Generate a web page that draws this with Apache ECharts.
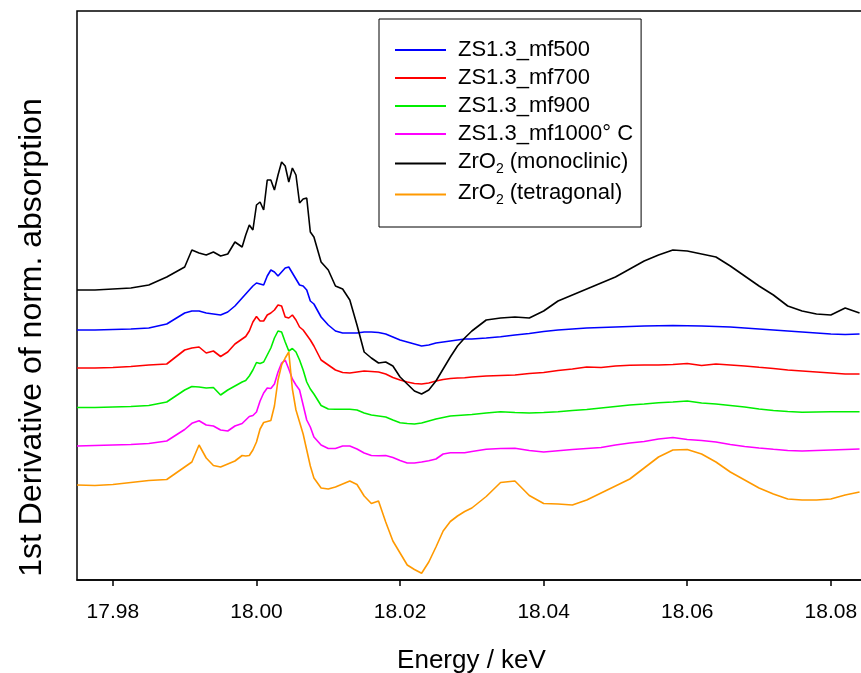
<!DOCTYPE html>
<html>
<head>
<meta charset="utf-8">
<script src="https://cdn.jsdelivr.net/npm/echarts@6/dist/echarts.min.js"></script>
<style>
html,body{margin:0;padding:0;background:#fff;}
#chart{width:861px;height:673px;}
</style>
</head>
<body>
<div id="chart"></div>
<script>
// Energy grid (keV)
const energy = [17.975,17.9775,17.98,17.9825,17.985,17.9875,
17.990,17.991,17.992,17.993,17.994,17.995,17.996,17.997,
17.998,17.9985,17.999,17.9995,18.000,18.0005,18.001,18.0015,18.002,18.0025,18.003,18.0035,18.004,18.0045,18.005,18.0055,18.006,18.0065,18.007,18.0075,
18.008,18.009,18.010,18.011,18.012,18.013,18.014,18.015,18.016,18.017,18.018,18.019,18.020,18.021,18.022,18.023,18.024,18.025,18.026,18.027,18.028,18.029,
18.030,18.032,18.034,18.036,18.038,18.040,18.042,18.044,18.046,18.048,18.050,18.052,18.054,18.056,18.058,18.060,18.062,18.064,18.066,18.068,18.070,18.072,18.074,18.076,18.078,18.080,18.082,18.084];

// Series names
const names = ['ZS1.3_mf500','ZS1.3_mf700','ZS1.3_mf900','ZS1.3_mf1000° C','ZrO2 (monoclinic)','ZrO2 (tetragonal)'];
const colors = ['#0000ff','#ff0000','#00ee00','#ff00ff','#000000','#ff9900'];

// 1st derivative (offset, arbitrary units)
const mf500 = [2.50,2.50,2.505,2.51,2.52,2.56,2.67,2.69,2.69,2.67,
2.66,2.65,2.68,2.74,2.82,2.86,2.90,2.94,2.97,2.96,
2.95,3.04,3.10,3.08,3.04,3.08,3.12,3.13,3.07,3.01,
2.95,2.94,2.90,2.79,2.76,2.63,2.55,2.49,2.47,2.47,
2.47,2.48,2.48,2.475,2.46,2.43,2.40,2.38,2.36,2.34,
2.35,2.37,2.38,2.39,2.40,2.41,2.41,2.42,2.433,2.45,
2.465,2.485,2.50,2.51,2.52,2.525,2.53,2.535,2.54,2.543,
2.545,2.543,2.54,2.535,2.53,2.52,2.51,2.50,2.49,2.48,
2.47,2.46,2.455,2.46];

const mf700 = [2.12,2.12,2.125,2.135,2.15,2.16,2.30,2.32,2.33,2.27,
2.29,2.235,2.28,2.36,2.41,2.435,2.49,2.58,2.635,2.59,
2.59,2.65,2.67,2.70,2.75,2.74,2.63,2.62,2.65,2.60,
2.53,2.50,2.45,2.40,2.34,2.20,2.15,2.10,2.075,2.07,
2.08,2.09,2.085,2.08,2.06,2.025,2.00,1.98,1.965,1.96,
1.97,1.99,2.005,2.015,2.02,2.023,2.03,2.04,2.045,2.05,
2.065,2.075,2.095,2.11,2.13,2.125,2.14,2.147,2.15,2.15,
2.155,2.165,2.145,2.16,2.15,2.14,2.127,2.115,2.10,2.09,
2.08,2.07,2.06,2.06];

const mf900 = [1.725,1.725,1.73,1.735,1.745,1.78,1.90,1.935,1.93,1.92,
1.925,1.85,1.90,1.94,1.98,1.995,2.04,2.10,2.175,2.165,
2.18,2.25,2.32,2.42,2.49,2.48,2.38,2.29,2.315,2.28,
2.20,2.10,1.98,1.91,1.86,1.745,1.71,1.707,1.707,1.707,
1.70,1.67,1.65,1.64,1.63,1.60,1.573,1.565,1.56,1.57,
1.59,1.61,1.625,1.64,1.645,1.65,1.655,1.67,1.683,1.675,
1.67,1.675,1.683,1.695,1.705,1.72,1.735,1.75,1.76,1.773,
1.78,1.79,1.77,1.76,1.745,1.73,1.71,1.695,1.685,1.677,
1.68,1.683,1.683,1.683];

const mf1000 = [1.34,1.345,1.35,1.355,1.365,1.39,1.505,1.567,1.593,1.55,
1.54,1.50,1.49,1.54,1.565,1.60,1.635,1.645,1.68,1.79,
1.87,1.92,1.915,1.96,2.08,2.17,2.20,2.11,2.01,1.95,
1.90,1.75,1.60,1.53,1.43,1.35,1.315,1.315,1.34,1.34,
1.31,1.27,1.245,1.243,1.245,1.225,1.195,1.17,1.17,1.18,
1.193,1.21,1.26,1.273,1.273,1.273,1.285,1.307,1.315,1.317,
1.295,1.28,1.293,1.305,1.315,1.325,1.35,1.37,1.385,1.41,
1.425,1.405,1.395,1.38,1.355,1.335,1.32,1.307,1.295,1.29,
1.295,1.30,1.305,1.31];

const monoclinic = [2.90,2.90,2.91,2.92,2.95,3.03,3.13,3.30,3.27,3.25,
3.28,3.24,3.26,3.38,3.33,3.45,3.55,3.50,3.75,3.78,
3.70,4.00,4.00,3.90,4.05,4.18,4.14,3.98,4.12,4.05,
3.77,3.81,3.82,3.48,3.43,3.18,3.10,2.94,2.91,2.80,
2.55,2.28,2.22,2.17,2.18,2.14,2.03,1.96,1.89,1.86,
1.90,1.99,2.11,2.23,2.34,2.42,2.49,2.60,2.62,2.63,
2.62,2.69,2.79,2.85,2.91,2.97,3.03,3.11,3.19,3.25,
3.30,3.29,3.26,3.23,3.14,3.04,2.94,2.85,2.74,2.69,
2.66,2.65,2.72,2.67];

const tetragonal = [0.95,0.945,0.955,0.975,0.995,1.005,1.13,1.18,1.35,1.22,
1.145,1.13,1.16,1.19,1.245,1.24,1.245,1.30,1.38,1.51,
1.575,1.585,1.595,1.74,2.00,2.15,2.22,2.28,1.91,1.70,
1.58,1.46,1.30,1.14,1.02,0.92,0.91,0.93,0.96,0.99,
0.955,0.84,0.765,0.79,0.58,0.39,0.27,0.15,0.105,0.067,
0.18,0.33,0.49,0.585,0.64,0.685,0.72,0.835,0.975,0.99,
0.845,0.765,0.76,0.75,0.80,0.87,0.94,1.01,1.12,1.23,
1.30,1.305,1.26,1.18,1.08,1.00,0.92,0.86,0.81,0.80,
0.80,0.81,0.85,0.88];

const tickValues = [17.98, 18.00, 18.02, 18.04, 18.06, 18.08];

const values = [mf500, mf700, mf900, mf1000, monoclinic, tetragonal];
const FONT = '"Liberation Sans", Arial, sans-serif';

const chart = echarts.init(document.getElementById('chart'), null, {renderer: 'canvas'});
const series = names.map((n, i) => ({
  name: n,
  type: 'line',
  symbol: 'none',
  animation: false,
  lineStyle: {color: colors[i], width: 1.6},
  itemStyle: {color: colors[i]},
  data: energy.map((e, k) => [e, values[i][k]])
}));

chart.setOption({
  animation: false,
  backgroundColor: '#fff',
  grid: {show: true, left: 77, right: -5, top: 11, bottom: 93,
         outerBoundsMode: 'none', containLabel: false,
         borderColor: '#000', borderWidth: 1.5, backgroundColor: 'transparent'},
  xAxis: {
    type: 'value', min: 17.975, max: 18.0849,
    name: 'Energy / keV', nameLocation: 'middle', nameGap: 68,
    nameTextStyle: {fontSize: 26, color: '#000', fontFamily: FONT},
    axisLine: {show: true, lineStyle: {color: '#000', width: 1.5}},
    axisTick: {show: true, length: 6, inside: false, customValues: tickValues, lineStyle: {color: '#000', width: 1.5}},
    axisLabel: {show: true, customValues: tickValues, margin: 22, fontSize: 21, color: '#000', fontFamily: FONT,
                formatter: v => v.toFixed(2)},
    splitLine: {show: false}
  },
  yAxis: {
    type: 'value', min: 0, max: 5.69,
    name: '1st Derivative of norm. absorption', nameLocation: 'middle', nameGap: 29,
    nameTextStyle: {fontSize: 32, color: '#000', fontFamily: FONT, padding: [0, 84, 0, 0]},
    axisLine: {show: false}, axisTick: {show: false}, axisLabel: {show: false}, splitLine: {show: false}
  },
  legend: {
    orient: 'vertical', left: 379, top: 19,
    padding: [20, 8, 20, 16],
    icon: 'rect',
    itemWidth: 51, itemHeight: 2, itemGap: 6,
    backgroundColor: '#fff', borderColor: '#000', borderWidth: 1,
    data: names,
    formatter: function (name) {
      if (name.indexOf('ZrO2') === 0) {
        return '{a|ZrO}{s|2}{n|' + name.slice(4) + '}';
      }
      return '{a|' + name + '}';
    },
    textStyle: {
      fontSize: 22, color: '#000', fontFamily: FONT,
      rich: {
        a: {fontSize: 22, color: '#000', fontFamily: FONT, verticalAlign: 'top', padding: [0, 0, 0, 7]},
        n: {fontSize: 22, color: '#000', fontFamily: FONT, verticalAlign: 'top'},
        s: {fontSize: 14, color: '#000', fontFamily: FONT, verticalAlign: 'top', padding: [11, 0, 0, 0]}
      }
    }
  },
  series: series
});
</script>
</body>
</html>
